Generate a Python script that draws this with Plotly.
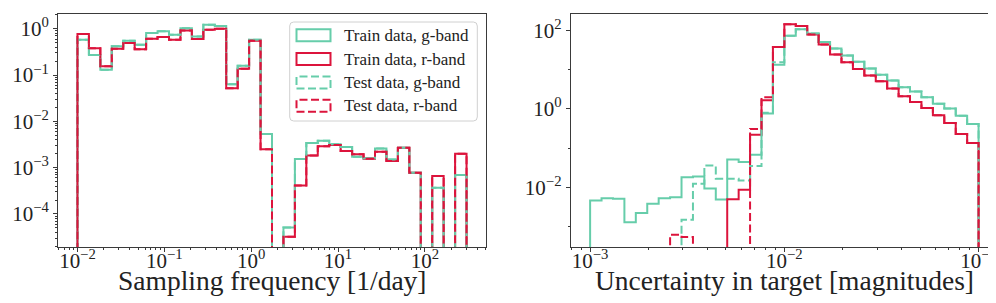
import numpy as np
import plotly.graph_objects as go

# ---------------- data ----------------
freq_edges = np.logspace(-2, 2.48, 35)
unc_edges = np.logspace(-3, -1, 35)

freq_train_g = [0.58, 0.27, 0.13, 0.42, 0.55, 0.45, 0.81, 0.88, 0.74, 1.03, 0.68, 1.22, 1.14,
                0.063, 0.158, 0.58, 5.3e-3, 0, 5.1e-5, 1.54e-3, 3.4e-3, 3.8e-3, 3.2e-3, 2.8e-3,
                1.73e-3, 1.6e-3, 2.6e-3, 1.5e-3, 2.7e-3, 7.8e-4, 0, 3.7e-4, 0, 6.9e-4]
freq_train_r = [0.77, 0.38, 0.155, 0.37, 0.49, 0.36, 0.61, 0.66, 0.58, 0.92, 0.60, 0.95, 1.0,
                0.052, 0.136, 0.55, 2.5e-3, 0, 3.2e-5, 4.1e-4, 1.82e-3, 2.9e-3, 3.1e-3, 2.3e-3,
                1.95e-3, 1.55e-3, 2.2e-3, 1.4e-3, 2.7e-3, 7.8e-4, 0, 6.6e-4, 0, 2.0e-3]
freq_test_g = [0.58, 0.27, 0.13, 0.42, 0.55, 0.45, 0.81, 0.88, 0.74, 1.03, 0.68, 1.22, 1.14,
               0.063, 0.158, 0.58, 5.3e-3, 0, 5.1e-5, 1.54e-3, 3.4e-3, 3.8e-3, 3.2e-3, 2.8e-3,
               1.73e-3, 1.6e-3, 2.6e-3, 1.5e-3, 2.7e-3, 7.8e-4, 0, 3.7e-4, 0, 6.9e-4]
freq_test_r = [0.77, 0.38, 0.155, 0.37, 0.49, 0.36, 0.61, 0.66, 0.58, 0.92, 0.60, 0.95, 1.0,
               0.052, 0.136, 0.55, 2.5e-3, 0, 3.2e-5, 4.1e-4, 1.82e-3, 2.9e-3, 3.1e-3, 2.3e-3,
               1.95e-3, 1.55e-3, 2.2e-3, 1.4e-3, 2.7e-3, 7.8e-4, 0, 6.6e-4, 0, 2.0e-3]

unc_train_g = [4.6e-3, 5.3e-3, 5.1e-3, 1.28e-3, 2.2e-3, 3.8e-3, 5.3e-3, 5.6e-3, 0.018, 0.019,
               9.4e-3, 4.9e-3, 0.051, 0.044, 0.068, 0.76, 13.5, 74, 108, 84, 51, 34.7, 23, 15.9,
               10.7, 7.5, 5.3, 3.6, 2.8, 2.0, 1.36, 1.02, 0.67, 0.41]
unc_train_r = [0, 0, 0, 0, 0, 0, 0, 0, 0, 0, 0, 0, 5.0e-3, 8.7e-3, 0.22, 1.67, 37.8, 145, 130,
               79, 44, 24.4, 15.6, 10.5, 7.1, 5.1, 3.3, 2.1, 1.5, 1.06, 0.69, 0.44, 0.23, 0.135]
unc_test_g = [0, 0, 0, 0, 0, 0, 0, 0, 1.5e-3, 0.0124, 0.036, 0.0166, 0.0166, 0.015, 0.035, 0.8,
              15.5, 74, 108, 84, 51, 34.7, 23, 15.9, 10.7, 7.5, 5.3, 3.6, 2.8, 2.0, 1.36, 1.02,
              0.67, 0.41]
unc_test_r = [0, 0, 0, 0, 0, 0, 0, 6.2e-4, 5.4e-4, 0, 0, 0, 0, 0, 0.31, 2.0, 37.8, 145, 130,
              79, 44, 24.4, 15.6, 10.5, 7.1, 5.1, 3.3, 2.1, 1.5, 1.06, 0.69, 0.44, 0.23, 0.135]

xlabels = ["Sampling frequency [1/day]", "Uncertainty in target [magnitudes]"]
legend_labels = ["Train data, g-band", "Train data, r-band", "Test data, g-band", "Test data, r-band"]

# ---------------- style ----------------
GREEN = "#66CDAA"
RED = "#DC143C"
FONT = "Liberation Serif"
AX = "#3a3a3a"
W, H = 996, 303
FLOOR = 1e-12


def step_xy(edges, vals):
    x = [edges[0]] + list(edges)
    y = [FLOOR] + [v if v > 0 else FLOOR for v in vals] + [FLOOR]
    return x, y


fig = go.Figure()
series = [
    ("x", "y", freq_edges, [freq_train_g, freq_train_r, freq_test_g, freq_test_r]),
    ("x2", "y2", unc_edges, [unc_train_g, unc_train_r, unc_test_g, unc_test_r]),
]
styles = [(GREEN, "solid"), (RED, "solid"), (GREEN, "8px,3.5px"), (RED, "8px,3.5px")]
for xa, ya, edges, sets in series:
    for (col, dash), vals, name in zip(styles, sets, legend_labels):
        x, y = step_xy(edges, vals)
        fig.add_trace(go.Scatter(x=x, y=y, mode="lines", line_shape="hv",
                                 line=dict(color=col, width=2, dash=dash),
                                 xaxis=xa, yaxis=ya, name=name, showlegend=False,
                                 hoverinfo="skip"))


def sup(k):
    s = str(k).replace("-", "\u2212")
    return "10<sup>" + s + "</sup>"


def minor_vals(lo, hi):
    out = []
    for k in range(lo, hi + 1):
        for m in range(2, 10):
            out.append(m * 10.0 ** k)
    return out


def px2paper_x(p):
    return p / W


def px2paper_y(p):
    return 1 - p / H


ydom = [px2paper_y(239.3), px2paper_y(5.7)]
common = dict(type="log", showline=True, linecolor=AX, linewidth=1, mirror=True,
              ticks="outside", ticklen=4, tickwidth=1, tickcolor=AX, showgrid=False,
              zeroline=False, tickfont=dict(family=FONT, size=21, color="#222"))
xcommon = dict(ticklabelstandoff=-10, **common)

fig.update_layout(
    width=W, height=H, margin=dict(l=0, r=0, t=0, b=0),
    paper_bgcolor="white", plot_bgcolor="white", showlegend=False,
    font=dict(family=FONT, color="#222"),
    xaxis=dict(domain=[px2paper_x(50), px2paper_x(478)], range=[-2.224, 2.704], anchor="y",
               tickmode="array", tickvals=[1e-2, 1e-1, 1, 10, 100],
               ticktext=[sup(k) for k in [-2, -1, 0, 1, 2]],
               minor=dict(tickmode="array", tickvals=minor_vals(-3, 2), ticks="outside",
                          ticklen=2, tickwidth=0.8, tickcolor=AX),
               **xcommon),
    yaxis=dict(domain=ydom, range=[-4.72, 0.325], anchor="x",
               tickmode="array", tickvals=[1e-4, 1e-3, 1e-2, 1e-1, 1],
               ticktext=[sup(k) for k in [-4, -3, -2, -1, 0]],
               minor=dict(tickmode="array", tickvals=minor_vals(-5, 0), ticks="outside",
                          ticklen=2, tickwidth=0.8, tickcolor=AX),
               **common),
    xaxis2=dict(domain=[px2paper_x(562.7), px2paper_x(990)], range=[-3.1, -0.9], anchor="y2",
                tickmode="array", tickvals=[1e-3, 1e-2, 1e-1],
                ticktext=[sup(k) for k in [-3, -2, -1]],
                minor=dict(tickmode="array", tickvals=minor_vals(-4, -1), ticks="outside",
                           ticklen=2, tickwidth=0.8, tickcolor=AX),
                **xcommon),
    yaxis2=dict(domain=ydom, range=[-3.53, 2.43], anchor="x2",
                tickmode="array", tickvals=[1e-2, 1, 100],
                ticktext=[sup(k) for k in [-2, 0, 2]],
                minor=dict(tickmode="array", tickvals=[1e-3, 1e-1, 10], ticks="outside",
                           ticklen=2, tickwidth=0.8, tickcolor=AX),
                **common),
)

# x-axis titles
for cx, txt in zip([(50 + 478) / 2, (562.7 + 990) / 2], xlabels):
    fig.add_annotation(x=px2paper_x(cx), y=px2paper_y(272), xref="paper", yref="paper",
                       text=txt, showarrow=False, xanchor="center", yanchor="middle",
                       font=dict(family=FONT, size=27.5, color="#222"))

# legend (drawn as in matplotlib: outlined patches)
lx0, lx1, ly0, ly1, r = 281.7, 469.3, 14, 113, 4


def rr_path(x0, y0, x1, y1, r):
    X = px2paper_x
    Y = px2paper_y
    pts = (f"M {X(x0 + r)},{Y(y0)} L {X(x1 - r)},{Y(y0)} Q {X(x1)},{Y(y0)} {X(x1)},{Y(y0 + r)} "
           f"L {X(x1)},{Y(y1 - r)} Q {X(x1)},{Y(y1)} {X(x1 - r)},{Y(y1)} "
           f"L {X(x0 + r)},{Y(y1)} Q {X(x0)},{Y(y1)} {X(x0)},{Y(y1 - r)} "
           f"L {X(x0)},{Y(y0 + r)} Q {X(x0)},{Y(y0)} {X(x0 + r)},{Y(y0)} Z")
    return pts


fig.add_shape(type="path", path=rr_path(lx0, ly0, lx1, ly1, r), xref="paper", yref="paper",
              line=dict(color="#d0d0d0", width=1), fillcolor="rgba(255,255,255,0.8)")
rows = [27.3, 51.0, 74.4, 97.8]
for (col, dash), name, cy in zip(styles, legend_labels, rows):
    fig.add_shape(type="rect", xref="paper", yref="paper",
                  x0=px2paper_x(288.5), x1=px2paper_x(322.5),
                  y0=px2paper_y(cy + 6), y1=px2paper_y(cy - 6),
                  line=dict(color=col, width=2, dash=dash), fillcolor="rgba(0,0,0,0)")
    fig.add_annotation(x=px2paper_x(334), y=px2paper_y(cy), xref="paper", yref="paper",
                       text=name, showarrow=False, xanchor="left", yanchor="middle",
                       font=dict(family=FONT, size=17, color="#222"))

fig.write_html("out.html")
